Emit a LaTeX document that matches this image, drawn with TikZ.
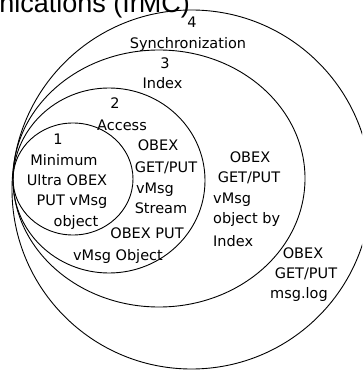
\documentclass[tikz,border=0pt]{standalone}
\usepackage{fontspec}
\setmainfont{DejaVu Sans}
\newfontfamily\titlefont{Liberation Sans}
\begin{document}
\begin{tikzpicture}[x=1pt,y=-1pt,
  ring/.style={draw=black,line width=0.9pt},
  lbl/.style={font=\fontsize{14.5}{16}\selectfont, inner sep=0pt, anchor=base},
  lblw/.style={lbl, anchor=base west}]
\useasboundingbox (0,0) rectangle (362,371);
\clip (0,0) rectangle (362,371);
% rings
\draw[ring] (191.5,189.5) ellipse [x radius=179.5pt, y radius=179.5pt];
\draw[ring] (159,178.5) ellipse [x radius=146pt, y radius=128.5pt];
\draw[ring] (109,180.5) ellipse [x radius=96pt, y radius=92.5pt];
\draw[ring] (73,179) ellipse [x radius=60pt, y radius=56pt];
% title
\node[font=\titlefont\fontsize{27}{30}\selectfont, inner sep=0pt, anchor=base east] (title) at (190,13) {nications (IrMC)};
% level 4
\node[lbl] (n4) at (192,27.5) {4};
\node[lbl] (sync) at (188,48.5) {Synchronization};
\node[lbl] (l4a) at (303,258.5) {OBEX};
\node[lbl] (l4b) at (306,278.5) {GET/PUT};
\node[lbl] (l4c) at (299,298.5) {msg.log};
% level 3
\node[lbl] (n3) at (165,68.5) {3};
\node[lbl] (index) at (162.5,88.5) {Index};
\node[lbl] (l3a) at (250,162.5) {OBEX};
\node[lbl] (l3b) at (249,182.5) {GET/PUT};
\node[lblw] (l3c) at (213,203.5) {vMsg};
\node[lblw] (l3d) at (213,223.5) {object by};
\node[lblw] (l3e) at (213,246) {Index};
% level 2
\node[lbl] (n2) at (115,108.5) {2};
\node[lbl] (access) at (122,130.5) {Access};
\node[lbl] (l2a) at (158,150.5) {OBEX};
\node[lbl] (l2b) at (166,172.5) {GET/PUT};
\node[lbl] (l2c) at (155,193.5) {vMsg};
\node[lbl] (l2d) at (161,213.5) {Stream};
\node[lbl] (l2e) at (147,238.5) {OBEX PUT};
\node[lbl] (l2f) at (118,260.5) {vMsg Object};
% level 1
\node[lbl] (n1) at (58,144.5) {1};
\node[lbl] (l1a) at (64,165.5) {Minimum};
\node[lbl] (l1b) at (67,185.5) {Ultra OBEX};
\node[lbl] (l1c) at (72,205.5) {PUT vMsg};
\node[lbl] (l1d) at (76,226.5) {object};
\end{tikzpicture}
\end{document}
